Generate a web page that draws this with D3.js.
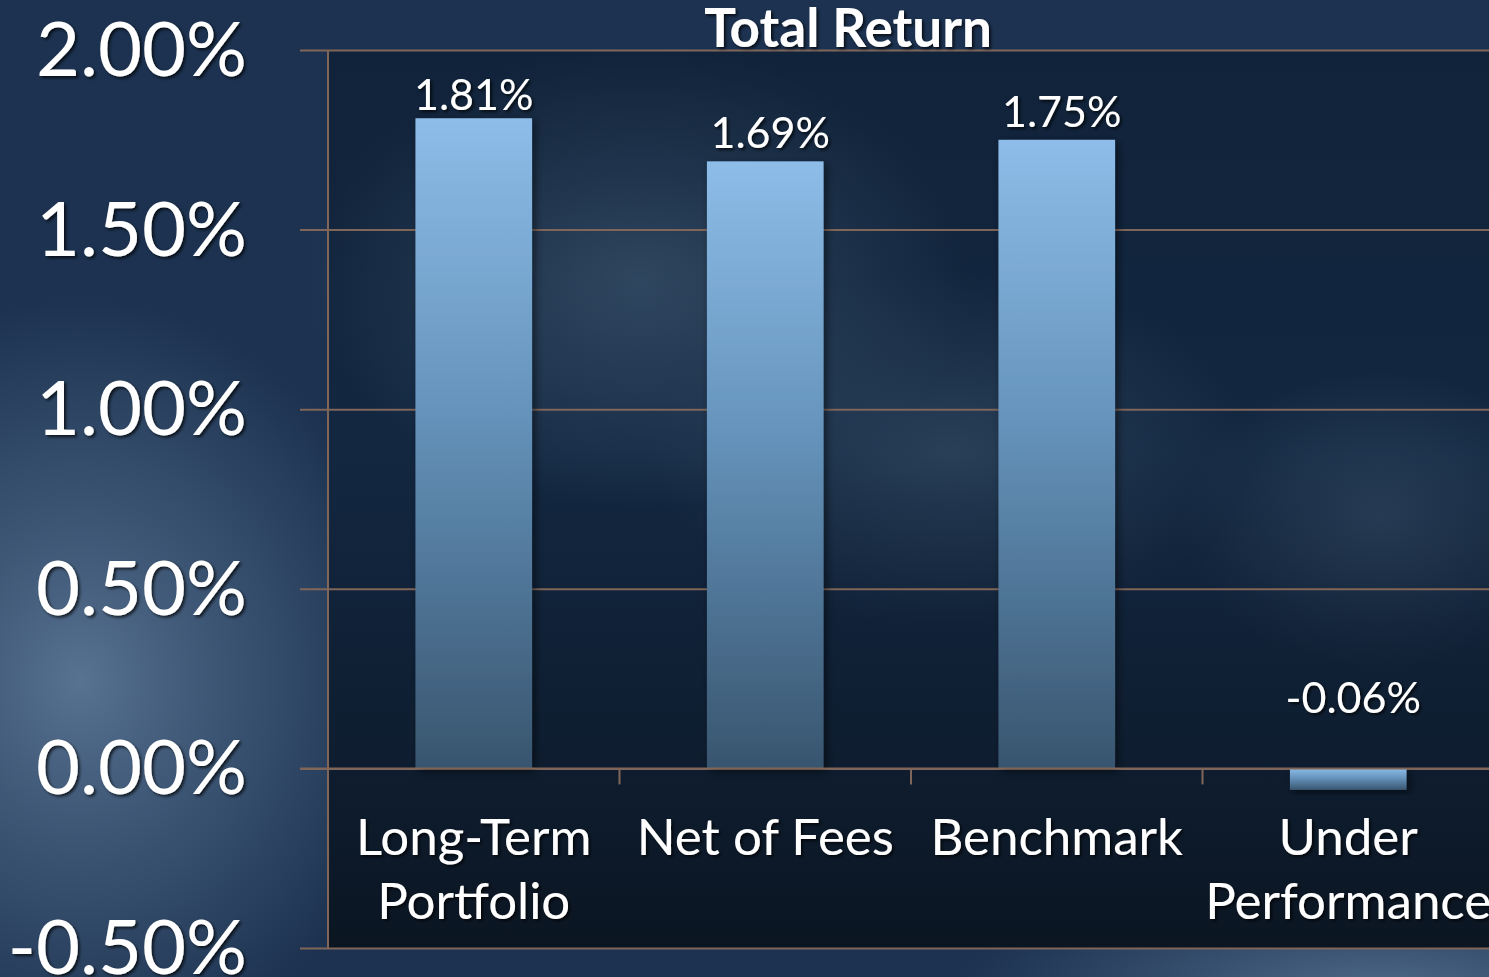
<!DOCTYPE html>
<html lang="en">
  <head>
    <meta charset="utf-8">
    <title>Total Return</title>
    <style>
      html, body { margin: 0; padding: 0; background: #1b3350; overflow: hidden; }
      svg { display: block; }
    </style>
  </head>
  <body>
    <svg id="chart"></svg>

    <script src="https://d3js.org/d3.v7.min.js"></script>

    <script type="text/javascript">
      // data
      const categories = [['Long-Term', 'Portfolio'], ['Net of Fees'], ['Benchmark'], ['Under', 'Performance']];
      const values = [1.81, 1.69, 1.75, -0.06];
      const yTicks = [-0.5, 0, 0.5, 1.0, 1.5, 2.0];
      const title = 'Total Return';

      const W = 1489, H = 977;
      const font = 'Lato, "Open Sans", sans-serif';
      const pct = d => d3.format('.2f')(d).replace('\u2212', '-') + '%';

      const svg = d3.select('#chart').attr('width', W).attr('height', H);
      const defs = svg.append('defs');

      // background pieces
      function radial(id, stops) {
        const g = defs.append('radialGradient').attr('id', id);
        stops.forEach(s => g.append('stop').attr('offset', s[0]).attr('stop-color', s[1]).attr('stop-opacity', s[2]));
      }
      radial('glowLeft', [[0, '#5b7594', 0.95], [0.6, '#4a6584', 0.5], [1, '#4a6584', 0]]);
      radial('glowMid', [[0, '#425d79', 0.85], [1, '#425d79', 0]]);
      radial('glowRight', [[0, '#3a536d', 0.7], [1, '#3a536d', 0]]);
      radial('glowBottom', [[0, '#5a7595', 0.8], [1, '#5a7595', 0]]);

      const plotShade = defs.append('linearGradient').attr('id', 'plotShade')
        .attr('x1', 0).attr('y1', 0).attr('x2', 0).attr('y2', 1);
      plotShade.append('stop').attr('offset', 0).attr('stop-color', '#0a1626').attr('stop-opacity', 0.35);
      plotShade.append('stop').attr('offset', 0.45).attr('stop-color', '#0a1626').attr('stop-opacity', 0.15);
      plotShade.append('stop').attr('offset', 1).attr('stop-color', '#0a121c').attr('stop-opacity', 0.85);

      const barFill = defs.append('linearGradient').attr('id', 'barFill')
        .attr('x1', 0).attr('y1', 0).attr('x2', 0).attr('y2', 1);
      barFill.append('stop').attr('offset', 0).attr('stop-color', '#8dbde8');
      barFill.append('stop').attr('offset', 0.45).attr('stop-color', '#6593bb');
      barFill.append('stop').attr('offset', 1).attr('stop-color', '#38556f');

      const shadow = defs.append('filter').attr('id', 'shadow')
        .attr('x', '-10%').attr('y', '-10%').attr('width', '130%').attr('height', '130%');
      shadow.append('feDropShadow').attr('dx', 2).attr('dy', 2).attr('stdDeviation', 1.5)
        .attr('flood-color', '#000').attr('flood-opacity', 0.7);

      const barShadow = defs.append('filter').attr('id', 'barShadow')
        .attr('x', '-10%').attr('y', '-10%').attr('width', '130%').attr('height', '130%');
      barShadow.append('feDropShadow').attr('dx', 3).attr('dy', 3).attr('stdDeviation', 4)
        .attr('flood-color', '#000').attr('flood-opacity', 0.5);

      svg.append('rect').attr('width', W).attr('height', H).attr('fill', '#1c3250');
      svg.append('ellipse').attr('cx', 80).attr('cy', 680).attr('rx', 330).attr('ry', 380).attr('fill', 'url(#glowLeft)');
      svg.append('ellipse').attr('cx', 1380).attr('cy', 990).attr('rx', 420).attr('ry', 120).attr('fill', 'url(#glowBottom)');

      // scales
      const x = d3.scaleBand()
        .domain(d3.range(categories.length))
        .range([328, 1494])
        .paddingInner(0.6)
        .paddingOuter(0.3);

      const y = d3.scaleLinear()
        .domain([d3.min(yTicks), d3.max(yTicks)])
        .range([948, 50]);

      // plot area
      const plot = svg.append('g');
      plot.append('rect').attr('x', 328).attr('y', y(2)).attr('width', W - 328).attr('height', y(-0.5) - y(2))
        .attr('fill', '#142a45');
      plot.append('ellipse').attr('cx', 640).attr('cy', 280).attr('rx', 330).attr('ry', 230).attr('fill', 'url(#glowMid)');
      plot.append('ellipse').attr('cx', 950).attr('cy', 450).attr('rx', 300).attr('ry', 180).attr('fill', 'url(#glowRight)');
      plot.append('ellipse').attr('cx', 1380).attr('cy', 520).attr('rx', 200).attr('ry', 150).attr('fill', 'url(#glowRight)');
      plot.append('rect').attr('x', 328).attr('y', y(2)).attr('width', W - 328).attr('height', y(-0.5) - y(2))
        .attr('fill', 'url(#plotShade)');

      // gridlines + y axis
      const yAxis = d3.axisLeft(y).tickValues(yTicks)
        .tickSize(-(1494 - 300)).tickPadding(0).tickFormat('');
      const gy = svg.append('g').attr('transform', 'translate(300,0)').call(yAxis);
      gy.select('.domain').remove();
      gy.selectAll('.tick line').attr('x1', 0).attr('x2', 1494 - 300)
        .attr('stroke', '#806658').attr('stroke-width', 2);

      svg.append('line')
        .attr('x1', 328).attr('x2', 328).attr('y1', y(2)).attr('y2', y(-0.5))
        .attr('stroke', '#806658').attr('stroke-width', 2);

      // category separators on the zero line
      const seps = d3.range(1, categories.length).map(i => x(i) - x.step() * x.paddingInner() / 2);
      svg.selectAll('.sep').data(seps).join('line')
        .attr('x1', d => d).attr('x2', d => d)
        .attr('y1', y(0)).attr('y2', y(0) + 16)
        .attr('stroke', '#806658').attr('stroke-width', 2);

      // y labels
      svg.selectAll('.ylab').data(yTicks).join('text')
        .attr('x', 247).attr('y', d => y(d) + 26)
        .attr('text-anchor', 'end')
        .attr('font-family', font).attr('font-size', 76)
        .attr('fill', '#fff').attr('filter', 'url(#shadow)')
        .text(pct);

      // bars
      svg.selectAll('.bar').data(values).join('rect')
        .attr('x', (d, i) => x(i))
        .attr('y', d => y(Math.max(d, 0)))
        .attr('width', x.bandwidth())
        .attr('height', d => Math.abs(y(d) - y(0)))
        .attr('fill', 'url(#barFill)')
        .attr('filter', 'url(#barShadow)');

      // zero line on top of bars
      svg.append('line').attr('x1', 300).attr('x2', W).attr('y1', y(0)).attr('y2', y(0))
        .attr('stroke', '#806658').attr('stroke-width', 2);

      // data labels
      svg.selectAll('.dlab').data(values).join('text')
        .attr('x', (d, i) => x(i) + x.bandwidth() / 2 + (i === 0 ? 0 : 5))
        .attr('y', (d, i) => d >= 0 ? y(d) - (i === 0 ? 8 : 13) : y(0) - 55)
        .attr('text-anchor', 'middle')
        .attr('font-family', font).attr('font-size', 43)
        .attr('fill', '#fff').attr('filter', 'url(#shadow)')
        .text(pct);

      // category labels
      const cl = svg.selectAll('.clab').data(categories).join('text')
        .attr('text-anchor', 'middle')
        .attr('font-family', font).attr('font-size', 51)
        .attr('fill', '#fff').attr('filter', 'url(#shadow)');
      cl.selectAll('tspan').data((d, i) => d.map(t => ({ t, i }))).join('tspan')
        .attr('x', d => x(d.i) + x.bandwidth() / 2)
        .attr('y', (d, j) => 855 + j * 64)
        .text(d => d.t);

      // title
      svg.append('text')
        .attr('x', 848).attr('y', 47)
        .attr('text-anchor', 'middle')
        .attr('font-family', font).attr('font-size', 53).attr('font-weight', 'bold')
        .attr('fill', '#fff').attr('filter', 'url(#shadow)')
        .text(title);
    </script>
  </body>
</html>
